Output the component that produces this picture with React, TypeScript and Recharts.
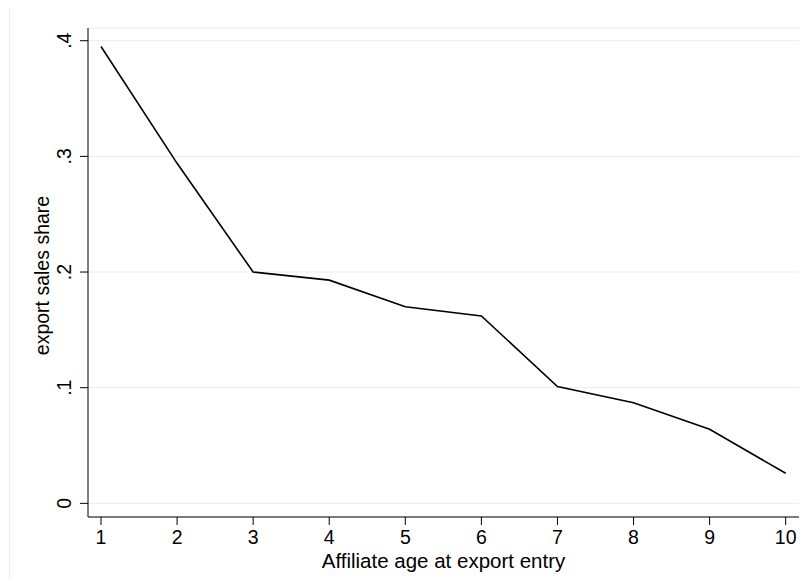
import React from "react";
import { LineChart, Line, XAxis, YAxis, CartesianGrid } from "recharts";

const ages = [1, 2, 3, 4, 5, 6, 7, 8, 9, 10];
const shares = [0.395, 0.294, 0.2, 0.193, 0.17, 0.162, 0.101, 0.087, 0.064, 0.026];
const yTicks = [0, 0.1, 0.2, 0.3, 0.4];
const yTickLabels = ["0", ".1", ".2", ".3", ".4"];
const xTicks = [1, 2, 3, 4, 5, 6, 7, 8, 9, 10];

const data = ages.map((a, i) => ({ age: a, share: shares[i] }));

const FONT = "'Liberation Sans', Arial, Helvetica, sans-serif";
const FS = 19.5;

const YTick = (props: any) => {
  const { x, y, payload } = props;
  const idx = yTicks.indexOf(payload.value);
  const label = idx >= 0 ? yTickLabels[idx] : String(payload.value);
  const cx = x - 14;
  return (
    <text
      x={cx}
      y={y}
      dy="0.35em"
      textAnchor="middle"
      transform={`rotate(-90, ${cx}, ${y})`}
      fontFamily={FONT}
      fontSize={FS}
      fill="#000"
    >
      {label}
    </text>
  );
};

const YLabel = (props: any) => {
  const { viewBox } = props;
  const cx = viewBox.x + 34;
  const cy = viewBox.y + viewBox.height / 2 + 3;
  return (
    <text
      x={cx}
      y={cy}
      dy="0.35em"
      textAnchor="middle"
      transform={`rotate(-90, ${cx}, ${cy})`}
      fontFamily={FONT}
      fontSize={19.5}
      fill="#000"
    >
      export sales share
    </text>
  );
};

export default function App() {
  return (
    <div style={{ position: "relative", width: 801, height: 572 }}>
      <div
        style={{
          position: "absolute",
          left: 1,
          top: -1,
          right: 0,
          bottom: 0,
          borderTop: "1px solid #e8eff2",
          borderLeft: "1px solid #e8eff2",
        }}
      />
      <div style={{ position: "absolute", left: 0, top: 0 }}>
        <LineChart
          width={793}
          height={572}
          data={data}
          margin={{ top: 20, right: 2, left: 0, bottom: 0 }}
        >
          <CartesianGrid horizontal={true} vertical={false} stroke="#e6eef1" strokeWidth={1} />
          <XAxis
            dataKey="age"
            type="number"
            domain={[0.829, 10.175]}
            ticks={xTicks}
            interval={0}
            height={63}
            tickSize={8}
            tickMargin={5}
            axisLine={{ stroke: "#000", strokeWidth: 1 }}
            tickLine={{ stroke: "#000", strokeWidth: 1 }}
            tick={{ fill: "#000", fontFamily: FONT, fontSize: FS }}
            allowDataOverflow={true}
            label={{
              value: "Affiliate age at export entry",
              position: "insideBottom",
              offset: 12,
              fill: "#000",
              fontFamily: FONT,
              fontSize: 20.5,
            }}
          />
          <YAxis
            type="number"
            domain={[-0.0118, 0.411]}
            ticks={yTicks}
            interval={0}
            width={80}
            tickSize={8}
            tickMargin={2}
            axisLine={{ stroke: "#000", strokeWidth: 1 }}
            tickLine={{ stroke: "#000", strokeWidth: 1 }}
            tick={<YTick />}
            allowDataOverflow={true}
            label={<YLabel />}
          />
          <Line
            type="linear"
            dataKey="share"
            stroke="#000"
            strokeWidth={1.6}
            dot={false}
            activeDot={false}
            isAnimationActive={false}
          />
        </LineChart>
      </div>
    </div>
  );
}
